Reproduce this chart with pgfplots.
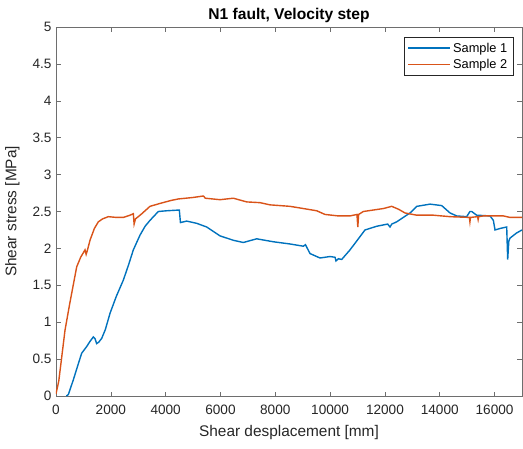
\documentclass[border=0pt]{standalone}
\usepackage{pgfplots}
\pgfplotsset{compat=1.18}
\usepackage{fontspec}
\setmainfont{Liberation Sans}
\definecolor{mblue}{RGB}{0,114,189}
\definecolor{morange}{RGB}{217,83,25}
\definecolor{axgray}{RGB}{38,38,38}
\definecolor{boxgray}{RGB}{110,110,110}
\pgfplotsset{
  legend image code/.code={\draw[#1, line width=1.4pt] (0pt,0pt) -- (42pt,0pt);},
}
\begin{document}
\begin{tikzpicture}
\useasboundingbox (-56pt,-52pt) rectangle (467pt,396pt);
\begin{axis}[
  at={(0pt,0pt)}, anchor=south west,
  scale only axis, width=466pt, height=369pt,
  xmin=0, xmax=17000, ymin=0, ymax=5,
  xtick={0,2000,...,16000},
  ytick={0,0.5,...,5},
  yticklabels={0,0.5,1,1.5,2,2.5,3,3.5,4,4.5,5},
  scaled x ticks=false,
  /pgf/number format/1000 sep={},
  /pgf/number format/assume math mode=true,
  tick align=inside,
  major tick length=4.5pt,
  axis line style={boxgray, line width=0.6pt},
  every tick/.style={boxgray, line width=0.6pt},
  tick label style={font=\fontsize{13.6}{15}\selectfont, text=axgray},
  xticklabel style={yshift=-5pt},
  yticklabel style={xshift=-1pt},
  title={\textbf{N1 fault, Velocity step}},
  title style={font=\fontsize{15.6}{17}\selectfont, yshift=-5pt},
  xlabel={Shear desplacement [mm]},
  ylabel={Shear stress [MPa]},
  label style={font=\fontsize{15.4}{17}\selectfont, text=axgray},
  xlabel style={yshift=-4pt},
  ylabel style={yshift=6pt},
  legend style={at={(1,1)}, xshift=-9pt, yshift=-10pt, anchor=north east,
    draw=axgray, line width=0.5pt, font=\fontsize{12.8}{15}\selectfont,
    inner sep=3.5pt, row sep=1.5pt},
  legend cell align=left,
]
\addplot[mblue, line width=1.4pt] coordinates {
(380,0.0) (450,0.02) (633,0.22) (800,0.42) (937,0.58) (1119,0.67) (1240,0.74)
(1362,0.80) (1420,0.78) (1484,0.71) (1560,0.73) (1666,0.78) (1800,0.90)
(1970,1.12) (2200,1.35) (2456,1.57) (2650,1.78) (2821,1.98) (3065,2.18)
(3250,2.30) (3429,2.38) (3733,2.50) (4037,2.51) (4499,2.52) (4540,2.35)
(4767,2.37) (5132,2.34) (5497,2.29) (5983,2.17) (6470,2.11) (6835,2.08)
(7320,2.13) (7928,2.09) (8537,2.06) (9023,2.03) (9100,2.05) (9267,1.93)
(9632,1.87) (9996,1.89) (10180,1.88) (10215,1.83) (10300,1.86) (10422,1.85)
(10726,1.98) (11091,2.16) (11273,2.25) (11700,2.30) (12100,2.33) (12185,2.29)
(12250,2.33) (12429,2.36) (12915,2.48) (13160,2.57) (13645,2.60) (14071,2.58)
(14375,2.48) (14618,2.44) (14983,2.43) (15100,2.50) (15165,2.50) (15347,2.45)
(15833,2.44) (15955,2.38) (16016,2.25) (16200,2.27) (16442,2.29) (16478,1.85)
(16520,2.10) (16563,2.14) (16806,2.21) (17000,2.25)
};
\addlegendentry{Sample 1}
\addplot[morange, line width=1.4pt] coordinates {
(0,0.03) (100,0.2) (200,0.5) (328,0.89) (500,1.25) (755,1.75) (900,1.88)
(1058,1.98) (1100,1.92) (1150,1.98) (1240,2.11) (1400,2.27) (1544,2.36)
(1700,2.40) (1909,2.43) (2200,2.42) (2456,2.42) (2700,2.45) (2821,2.47)
(2850,2.33) (2900,2.40) (3100,2.46) (3429,2.57) (3800,2.61) (4200,2.65)
(4462,2.67) (5000,2.69) (5375,2.71) (5450,2.68) (5983,2.66) (6470,2.68)
(6957,2.63) (7442,2.62) (7807,2.59) (8537,2.57) (9023,2.54) (9510,2.51)
(9814,2.46) (10300,2.44) (10726,2.44) (10980,2.46) (11010,2.29) (11040,2.46)
(11211,2.50) (11941,2.54) (12247,2.57) (12500,2.53) (12733,2.48) (13160,2.45)
(13768,2.45) (14375,2.43) (15080,2.42) (15100,2.36) (15120,2.42) (15380,2.43)
(15400,2.39) (15420,2.43) (15590,2.44) (16320,2.44) (16563,2.42) (17000,2.42)
};
\addlegendentry{Sample 2}
\end{axis}
\end{tikzpicture}
\end{document}
